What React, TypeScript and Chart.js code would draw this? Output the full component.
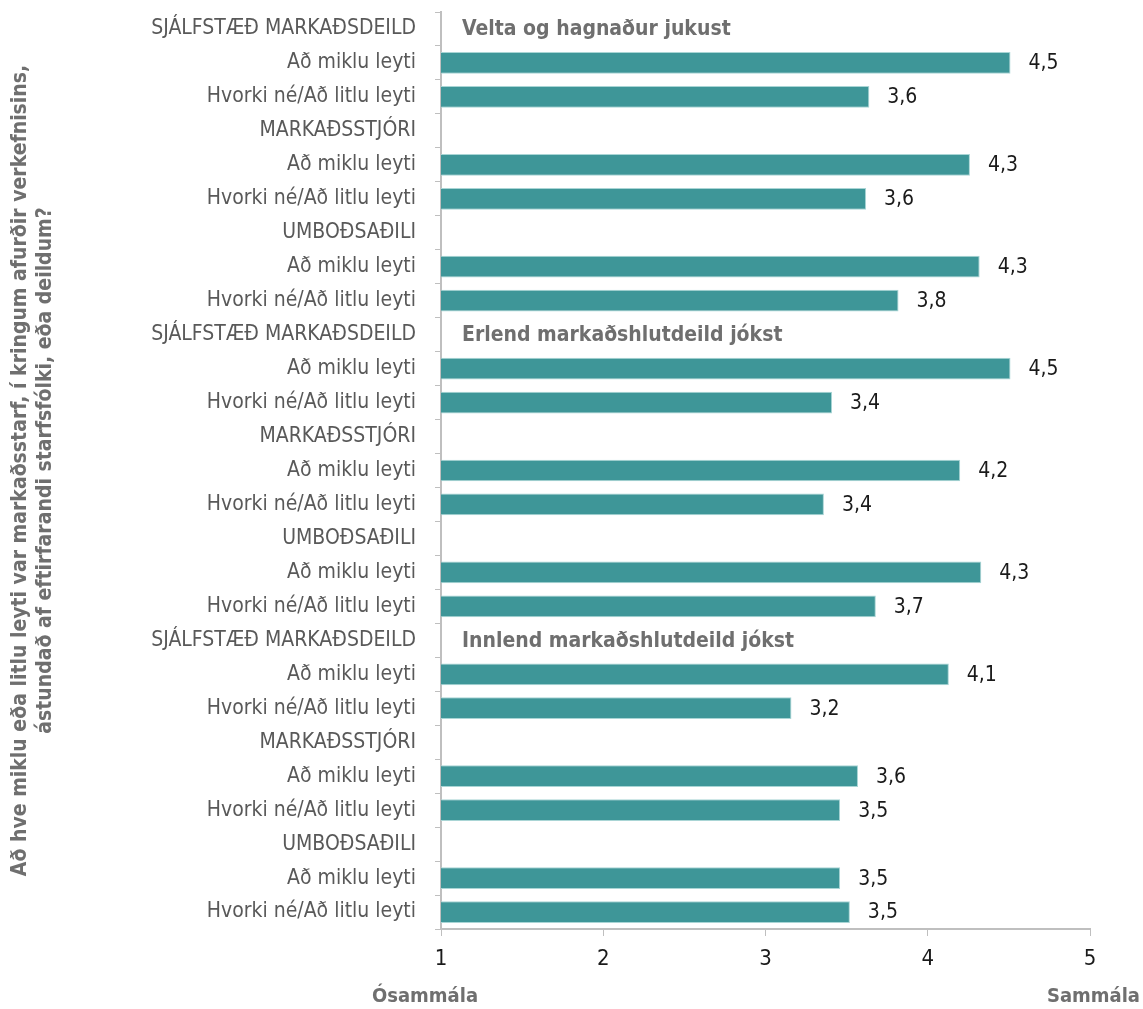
import { useEffect, useRef } from "react";
import { Chart, registerables } from "chart.js";

Chart.register(...registerables);

const categories = [
  "SJÁLFSTÆÐ MARKAÐSDEILD", "Að miklu leyti", "Hvorki né/Að litlu leyti",
  "MARKAÐSSTJÓRI", "Að miklu leyti", "Hvorki né/Að litlu leyti",
  "UMBOÐSAÐILI", "Að miklu leyti", "Hvorki né/Að litlu leyti",
  "SJÁLFSTÆÐ MARKAÐSDEILD", "Að miklu leyti", "Hvorki né/Að litlu leyti",
  "MARKAÐSSTJÓRI", "Að miklu leyti", "Hvorki né/Að litlu leyti",
  "UMBOÐSAÐILI", "Að miklu leyti", "Hvorki né/Að litlu leyti",
  "SJÁLFSTÆÐ MARKAÐSDEILD", "Að miklu leyti", "Hvorki né/Að litlu leyti",
  "MARKAÐSSTJÓRI", "Að miklu leyti", "Hvorki né/Að litlu leyti",
  "UMBOÐSAÐILI", "Að miklu leyti", "Hvorki né/Að litlu leyti",
];

const values = [
  null, 4.51, 3.64,
  null, 4.26, 3.62,
  null, 4.32, 3.82,
  null, 4.51, 3.41,
  null, 4.2, 3.36,
  null, 4.33, 3.68,
  null, 4.13, 3.16,
  null, 3.57, 3.46,
  null, 3.46, 3.52,
];

const sectionTitles = [
  "Velta og hagnaður jukust",
  "Erlend markaðshlutdeild jókst",
  "Innlend markaðshlutdeild jókst",
];
const sectionRows = [0, 9, 18];

const xTicks = [1, 2, 3, 4, 5];
const xMin = 1;
const xMax = 5;

const yTitleLines = [
  "Að hve miklu eða litlu leyti var markaðsstarf, í kringum afurðir verkefnisins,",
  "ástundað af eftirfarandi starfsfólki, eða deildum?",
];
const xLeftLabel = "Ósammála";
const xRightLabel = "Sammála";

const FONT = "'Liberation Sans Narrow', 'DejaVu Sans Condensed', 'Liberation Sans', sans-serif";
const GRAY = "#6f6f6f";
const LABEL_GRAY = "#595959";

export default function App() {
  const ref = useRef<HTMLCanvasElement | null>(null);

  useEffect(() => {
    document.body.style.margin = "0";
    const canvas = ref.current;
    if (!canvas) return;

    const extras = {
      id: "extras",
      afterDraw(chart: any) {
        const ctx = chart.ctx;
        const area = chart.chartArea;
        const y = chart.scales.y;
        const x = chart.scales.x;
        ctx.save();
        // value labels
        const meta = chart.getDatasetMeta(0);
        ctx.font = `21px ${FONT}`;
        ctx.fillStyle = "#1a1a1a";
        ctx.textAlign = "left";
        ctx.textBaseline = "middle";
        meta.data.forEach((bar: any, i: number) => {
          const v = values[i];
          if (v == null) return;
          ctx.fillText(v.toFixed(1).replace(".", ","), bar.x + 18, bar.y + 1);
        });
        // section titles
        ctx.font = `bold 21px ${FONT}`;
        ctx.fillStyle = GRAY;
        sectionTitles.forEach((t, i) => {
          ctx.fillText(t, area.left + 21, y.getPixelForValue(sectionRows[i]) + 1);
        });
        // y axis title
        ctx.save();
        ctx.translate(0, (area.top + area.bottom) / 2);
        ctx.rotate(-Math.PI / 2);
        ctx.textAlign = "center";
        ctx.font = `bold 21px ${FONT}`;
        ctx.fillStyle = GRAY;
        ctx.fillText(yTitleLines[0], 0, 21);
        ctx.fillText(yTitleLines[1], 0, 46);
        ctx.restore();
        // x axis end labels
        ctx.font = `bold 20px ${FONT}`;
        ctx.fillStyle = GRAY;
        ctx.textAlign = "center";
        ctx.fillText(xLeftLabel, x.getPixelForValue(xMin) - 16, 997);
        ctx.textAlign = "right";
        ctx.fillText(xRightLabel, 1140, 997);
        ctx.restore();
      },
    };

    const chart = new Chart(canvas, {
      type: "bar",
      data: {
        labels: categories,
        datasets: [
          {
            data: values as any,
            backgroundColor: "#3e9698",
            borderColor: "#a9d5d5",
            borderWidth: 1,
            categoryPercentage: 0.64,
            barPercentage: 1,
          },
        ],
      },
      options: {
        indexAxis: "y",
        animation: false,
        responsive: false,
        maintainAspectRatio: false,
        layout: { padding: { top: 12, right: 53, left: 0, bottom: 0 } },
        plugins: {
          legend: { display: false },
          tooltip: { enabled: false },
        },
        scales: {
          x: {
            type: "linear",
            min: xMin,
            max: xMax,
            afterBuildTicks(scale: any) {
              scale.ticks = xTicks.map((v) => ({ value: v }));
            },
            afterFit(scale: any) {
              scale.height = 80;
              scale.paddingLeft = 0;
              scale.paddingRight = 0;
            },
            grid: {
              drawOnChartArea: false,
              drawTicks: true,
              tickLength: 7,
              color: "#bfbfbf",
            },
            border: { color: "#bfbfbf", width: 2 },
            ticks: {
              color: "#1a1a1a",
              font: { family: FONT, size: 22 },
              padding: 10,
              maxRotation: 0,
            },
          },
          y: {
            type: "category",
            afterFit(scale: any) {
              scale.width = 441;
              scale.paddingTop = 0;
              scale.paddingBottom = 0;
            },
            grid: {
              drawOnChartArea: false,
              drawTicks: true,
              tickLength: 6,
              color: "#bfbfbf",
              offset: true,
            },
            border: { color: "#bfbfbf", width: 2 },
            ticks: {
              color: LABEL_GRAY,
              font: { family: FONT, size: 21 },
              padding: 19,
              autoSkip: false,
            },
          },
        },
      },
      plugins: [extras],
    });

    return () => chart.destroy();
  }, []);

  return (
    <div style={{ width: 1143, height: 1009 }}>
      <canvas ref={ref} width={1143} height={1009} style={{ display: "block" }} />
    </div>
  );
}
